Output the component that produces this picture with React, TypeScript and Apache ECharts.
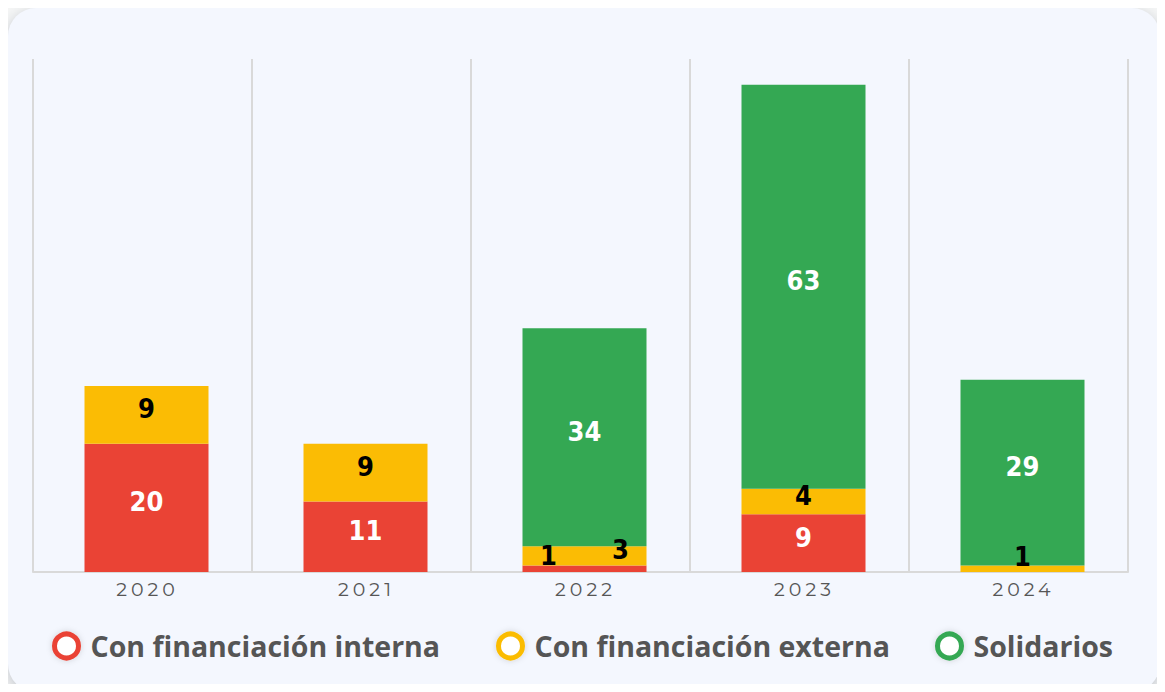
import React, { useEffect, useRef } from "react";
import * as echarts from "echarts";

const years = ["2020", "2021", "2022", "2023", "2024"];
const interna = [20, 11, 1, 9, 0];
const externa = [9, 9, 3, 4, 1];
const solidarios = [0, 0, 34, 63, 29];

const seriesNames = ["Con financiación interna", "Con financiación externa", "Solidarios"];
const colors = ["#EA4335", "#FBBC04", "#34A853"];
const labelColors = ["#ffffff", "#000000", "#ffffff"];
const legendLefts = [44, 488, 927];

// per-item label tweaks (index -> style) for thin segments
const labelTweaks: Record<string, any>[] = [
  { 2: { color: "#000000", offset: [-36, -13] } },
  { 2: { offset: [36, -6] }, 4: { offset: [0, -12] } },
  {},
];

const LABEL_FONT = '"Liberation Sans Narrow", "DejaVu Sans Condensed", "Roboto Condensed", "Arial Narrow", sans-serif';

export default function App() {
  const ref = useRef<HTMLDivElement>(null);
  useEffect(() => {
    if (!ref.current) return;
    const chart = echarts.init(ref.current, null, { renderer: "svg" });
    const all = [interna, externa, solidarios];
    const series = all.map((arr, si) => ({
      name: seriesNames[si],
      type: "bar",
      stack: "total",
      xAxisIndex: 1,
      yAxisIndex: 1,
      barWidth: 124,
      itemStyle: { color: colors[si] },
      label: {
        show: true,
        position: "inside",
        offset: [0, -6],
        color: labelColors[si],
        fontFamily: LABEL_FONT,
        fontWeight: "bold",
        fontSize: 27,
        formatter: (p: any) => (p.value > 0 ? String(p.value) : ""),
      },
      data: arr.map((v, i) => {
        const t = labelTweaks[si][i];
        return t ? { value: v, label: t } : v;
      }),
    }));
    chart.setOption({
      animation: false,
      backgroundColor: "transparent",
      grid: [
        { left: 25, top: 51, width: 1095, height: 513 },
        { left: 29, top: 51, width: 1095, height: 513 },
      ],
      xAxis: [
        {
          type: "category",
          gridIndex: 0,
          data: years,
          axisLine: { show: true, lineStyle: { color: "#d9d9d9", width: 2 } },
          axisTick: { show: false },
          splitLine: { show: true, lineStyle: { color: "#d9d9d9", width: 2 } },
          axisLabel: {
            color: "#565656",
            fontFamily: '"Montserrat", "Noto Sans", sans-serif',
            fontSize: 19,
            margin: 8,
            padding: [0, 0, 0, 10],
          },
        },
        {
          type: "category",
          gridIndex: 1,
          data: years,
          show: false,
        },
      ],
      yAxis: [
        { type: "value", gridIndex: 0, min: 0, max: 80, show: false, splitLine: { show: false } },
        { type: "value", gridIndex: 1, min: 0, max: 80, show: false, splitLine: { show: false } },
      ],
      legend: seriesNames.map((n, i) => ({
        left: legendLefts[i],
        top: 623,
        padding: 0,
        itemWidth: 24,
        itemHeight: 24,
        icon: "circle",
        textStyle: {
          color: "#555555",
          fontFamily: '"Open Sans", "Noto Sans", sans-serif',
          fontWeight: "bold",
          fontSize: 28.5,
          lineHeight: 30,
          padding: [0, 0, 0, 7],
        },
        data: [
          {
            name: n,
            itemStyle: {
              color: "#ffffff",
              borderColor: colors[i],
              borderWidth: 5,
              shadowColor: "rgba(0,0,0,0.15)",
              shadowBlur: 6,
            },
          },
        ],
      })),
      series,
    });
    return () => chart.dispose();
  }, []);

  return (
    <div
      style={{
        position: "relative",
        width: 1165,
        height: 692,
        margin: -8,
        background: "#f5f6f6",
        overflow: "hidden",
      }}
    >
      <style>{`#chartbox text[fill="#565656"]{letter-spacing:4px;}`}</style>
      <div
        style={{
          position: "absolute",
          left: 8,
          top: 8,
          width: 1152,
          height: 684,
          borderRadius: 28,
          background: "#f4f7fe",
          boxShadow: "0 4px 14px rgba(40,50,80,0.25)",
        }}
      >
        <div id="chartbox" ref={ref} style={{ width: 1152, height: 684 }} />
      </div>
    </div>
  );
}
